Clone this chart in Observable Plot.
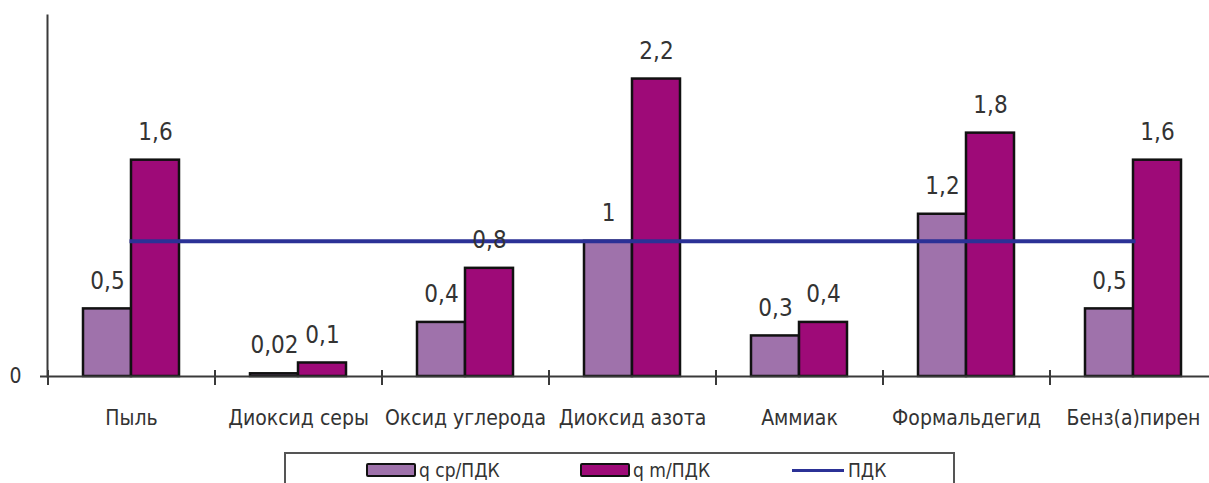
<!DOCTYPE html>
<html>
<head>
<meta charset="utf-8">
<script src="https://cdn.jsdelivr.net/npm/d3@7"></script>
<script src="https://cdn.jsdelivr.net/npm/@observablehq/plot@0.6"></script>
<style>
  html, body { margin: 0; padding: 0; background: #fff; overflow: hidden; }
  #wrap { position: relative; width: 1209px; height: 483px; font-family: "Liberation Sans Narrow", "Arial Narrow", "DejaVu Sans Condensed", sans-serif; }
  #legend { position: absolute; left: 284px; top: 452px; width: 671px; height: 31px; border: 2px solid #555; border-bottom: none; box-sizing: border-box; }
  .item { position: absolute; top: 4px; height: 24px; display: flex; align-items: center; font-size: 19px; line-height: 22px; color: #333; }
  .sw { width: 46px; height: 10px; border: 2.5px solid #111; border-radius: 2px; margin-right: 3px; }
  .ln { width: 52px; height: 3px; background: #2B3196; margin-right: 4px; }
</style>
</head>
<body>
<div id="wrap">
  <div id="chart"></div>
  <div id="legend"></div>
</div>
<script>
const categories = ["Пыль", "Диоксид серы", "Оксид углерода", "Диоксид азота", "Аммиак", "Формальдегид", "Бенз(а)пирен"];
const qAvg = [0.5, 0.02, 0.4, 1, 0.3, 1.2, 0.5];
const qMax = [1.6, 0.1, 0.8, 2.2, 0.4, 1.8, 1.6];
const pdkLevel = 1;
const seriesNames = ["q ср/ПДК", "q m/ПДК", "ПДК"];
const yTicks = [0];

const colAvg = "#9F72AB";
const colMax = "#9E0A78";
const colLine = "#2B3196";
const fmt = v => String(v).replace(".", ",");

const avgData = categories.map((c, i) => ({cat: c, v: qAvg[i]}));
const maxData = categories.map((c, i) => ({cat: c, v: qMax[i]}));
const pdkData = categories.map(c => ({cat: c, v: pdkLevel}));

const font = '"Liberation Sans Narrow", "Arial Narrow", "DejaVu Sans Condensed", sans-serif';

const chart = Plot.plot({
  width: 1209,
  height: 450,
  marginLeft: 47,
  marginRight: 0,
  marginTop: 15,
  marginBottom: 74,
  style: {fontFamily: font, background: "#fff"},
  x: {domain: categories, range: [47, 1216], paddingInner: 0.713, paddingOuter: 0.3565, axis: null},
  y: {domain: [0, 2.67], axis: null},
  marks: [
    Plot.barY(avgData, {x: "cat", y: "v", dx: -24, fill: colAvg, stroke: "#111", strokeWidth: 2.5}),
    Plot.barY(maxData, {x: "cat", y: "v", dx: 24, fill: colMax, stroke: "#111", strokeWidth: 2.5}),
    Plot.ruleY([0], {stroke: "#3a3a3a", strokeWidth: 2}),
    Plot.ruleX(categories, {x: d => d, dx: -83.5, y1: 0, y2: 0, insetTop: -6, insetBottom: -9, stroke: "#3a3a3a", strokeWidth: 2}),
    Plot.axisY({ticks: yTicks, tickSize: 7, tickPadding: 19, fontSize: 21, tickFormat: fmt, label: null, stroke: "#3a3a3a", strokeWidth: 2, color: "#333"}),
    Plot.frame({anchor: "left", stroke: "#3a3a3a", strokeWidth: 2}),
    Plot.axisX({tickSize: 0, tickPadding: 34, fontSize: 21, label: null, color: "#333"}),
    Plot.lineY(pdkData, {x: "cat", y: "v", stroke: colLine, strokeWidth: 4, strokeLinecap: "square"}),
    Plot.text(avgData, {x: "cat", y: "v", dx: -24, dy: -28, text: d => fmt(d.v), fontSize: 24, fill: "#333"}),
    Plot.text(maxData, {x: "cat", y: "v", dx: 24, dy: -28, text: d => fmt(d.v), fontSize: 24, fill: "#333"})
  ]
});
document.getElementById("chart").appendChild(chart);

const legend = document.getElementById("legend");
const items = [
  {left: 80, html: `<div class="sw" style="background:${colAvg}"></div>${seriesNames[0]}`},
  {left: 294, html: `<div class="sw" style="background:${colMax}"></div>${seriesNames[1]}`},
  {left: 506, html: `<div class="ln"></div>${seriesNames[2]}`}
];
for (const it of items) {
  const d = document.createElement("div");
  d.className = "item";
  d.style.left = it.left + "px";
  d.innerHTML = it.html;
  legend.appendChild(d);
}
</script>
</body>
</html>
